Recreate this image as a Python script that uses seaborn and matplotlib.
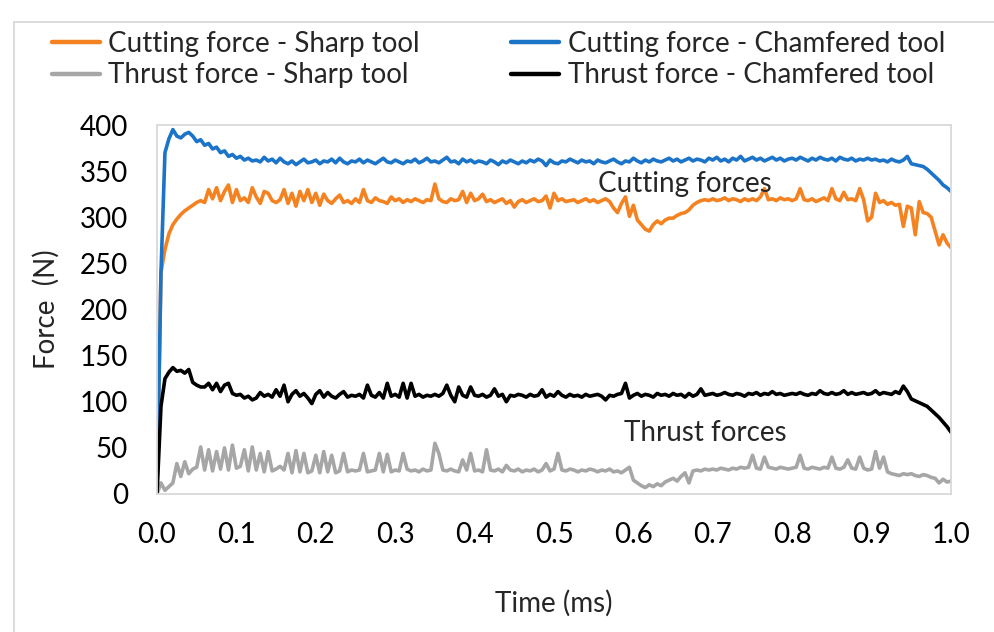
import numpy as np
import pandas as pd
import seaborn as sns
import matplotlib
matplotlib.use("Agg")
import matplotlib.pyplot as plt
from matplotlib.lines import Line2D

# Sampling times (ms), one sample every 0.005 ms
time_ms = np.round(np.arange(201) * 0.005, 3)

cutting_sharp = [
    0, 240, 265, 282, 292, 298, 303, 307, 310, 313,
    316, 318, 316, 330, 320, 332, 318, 328, 335, 316,
    330, 318, 321, 316, 332, 322, 315, 328, 326, 318,
    316, 319, 330, 315, 326, 312, 328, 318, 330, 316,
    326, 313, 325, 318, 315, 320, 324, 316, 318, 315,
    320, 316, 330, 318, 316, 321, 318, 317, 315, 322,
    318, 320, 316, 319, 317, 320, 318, 316, 319, 318,
    336, 320, 317, 316, 320, 318, 319, 328, 316, 326,
    318, 320, 325, 317, 319, 316, 318, 320, 315, 318,
    311, 317, 319, 316, 318, 320, 317, 318, 323, 310,
    326, 318, 320, 317, 318, 319, 316, 318, 320, 317,
    319, 316, 318, 320, 317, 310, 305, 315, 322, 301,
    313, 297, 292, 287, 285, 292, 296, 293, 297, 299,
    299, 302, 304, 305, 308, 313, 316, 318, 319, 318,
    320, 318, 319, 321, 318, 320, 319, 317, 320, 318,
    320, 318, 322, 331, 319, 320, 318, 321, 319, 320,
    318, 320, 331, 319, 318, 320, 317, 319, 321, 318,
    331, 320, 318, 327, 319, 320, 318, 331, 319, 296,
    300, 326, 316, 318, 314, 316, 313, 314, 290, 312,
    310, 281, 317, 305, 304, 300, 285, 270, 281, 272,
    267,
]

cutting_chamfered = [
    0, 240, 370, 385, 395, 388, 386, 390, 392, 388,
    382, 384, 378, 380, 374, 376, 370, 372, 366, 368,
    364, 366, 362, 364, 361, 362, 360, 365, 361, 363,
    359, 364, 360, 358, 361, 357, 360, 363, 359, 360,
    362, 358, 361, 360, 363, 359, 364, 360, 358, 361,
    360, 363, 359, 362, 360, 358, 361, 364, 360, 359,
    362, 360, 358, 361, 360, 363, 359, 361, 364, 360,
    361, 359, 362, 365, 360, 361, 358, 363, 360, 362,
    359, 361, 360, 358, 362, 360, 357, 361, 359, 362,
    360, 358, 361, 359, 362, 360, 363, 361, 356, 362,
    359, 358, 361, 360, 363, 361, 359, 362, 360, 361,
    358, 362, 360, 359, 361, 363, 360, 358, 361, 360,
    364, 361, 359, 362, 360, 363, 361, 360, 362, 364,
    361, 363, 360, 362, 364, 361, 363, 362, 360, 364,
    362, 365, 361, 363, 360, 364, 362, 366, 361, 363,
    365, 362, 364, 361, 363, 365, 362, 364, 361, 363,
    364, 362, 365, 363, 361, 364, 362, 365, 363, 362,
    364, 361, 365, 363, 362, 364, 361, 363, 362, 364,
    362, 363, 361, 362, 360, 363, 361, 360, 362, 366,
    358, 357, 356, 355, 352, 348, 344, 340, 335, 332,
    328,
]

thrust_sharp = [
    0, 12, 4, 8, 12, 33, 19, 35, 22, 27,
    29, 51, 26, 48, 25, 46, 27, 50, 26, 53,
    28, 30, 48, 25, 51, 26, 44, 24, 46, 25,
    27, 30, 26, 44, 23, 47, 24, 44, 23, 25,
    42, 23, 46, 24, 42, 23, 25, 44, 24, 26,
    25, 26, 44, 24, 25, 26, 44, 24, 43, 24,
    26, 25, 44, 27, 25, 26, 24, 27, 25, 26,
    55, 44, 26, 25, 27, 25, 24, 37, 26, 44,
    25, 26, 24, 48, 26, 25, 27, 24, 31, 26,
    25, 27, 24, 26, 25, 27, 24, 26, 33, 25,
    27, 44, 26, 25, 27, 26, 24, 26, 25, 27,
    26, 24, 26, 25, 27, 24, 25, 23, 26, 29,
    15, 12, 9, 7, 10, 8, 11, 9, 13, 15,
    17, 14, 19, 23, 12, 25, 26, 25, 27, 26,
    27, 26, 28, 27, 26, 28, 27, 29, 28, 29,
    42, 28, 27, 40, 29, 28, 27, 29, 28, 27,
    28, 29, 42, 28, 27, 29, 28, 27, 29, 28,
    40, 28, 27, 29, 37, 28, 27, 40, 28, 26,
    27, 46, 28, 40, 24, 22, 21, 20, 22, 21,
    22, 20, 19, 21, 20, 18, 17, 12, 16, 13,
    14,
]

thrust_chamfered = [
    0, 95, 125, 132, 137, 133, 134, 131, 135, 121,
    118, 116, 116, 120, 113, 120, 111, 118, 120, 109,
    107, 108, 104, 106, 102, 104, 110, 106, 108, 105,
    113, 106, 118, 100, 108, 112, 106, 109, 104, 98,
    108, 112, 105, 110, 106, 104, 108, 111, 105, 107,
    106, 108, 104, 118, 107, 105, 110, 104, 120, 106,
    108, 105, 120, 104, 120, 106, 108, 105, 107, 106,
    108, 106, 109, 118, 107, 100, 116, 107, 105, 116,
    107, 106, 108, 105, 107, 114, 106, 108, 100, 107,
    106, 108, 107, 105, 108, 106, 107, 113, 105, 108,
    106, 111, 107, 105, 108, 106, 107, 105, 108, 106,
    107, 108, 106, 102, 107, 106, 108, 109, 120, 104,
    107, 109, 106, 108, 107, 105, 109, 107, 108, 106,
    109, 107, 108, 105, 109, 106, 108, 114, 107, 108,
    109, 107, 108, 110, 108, 107, 109, 108, 106, 109,
    108, 110, 107, 109, 108, 111, 108, 109, 107, 108,
    109, 108, 110, 108, 107, 109, 108, 112, 109, 108,
    110, 108, 109, 112, 108, 110, 108, 109, 110, 108,
    109, 112, 108, 110, 109, 108, 111, 109, 117, 111,
    103, 101, 99, 97, 95, 91, 87, 83, 78, 73,
    67,
]

series_names = [
    "Cutting force - Sharp tool",
    "Cutting force - Chamfered tool",
    "Thrust force - Sharp tool",
    "Thrust force - Chamfered tool",
]
series_values = [cutting_sharp, cutting_chamfered, thrust_sharp, thrust_chamfered]
series_colors = ["#F58220", "#1C74C9", "#A6A6A6", "#000000"]

x_ticks = [0.0, 0.1, 0.2, 0.3, 0.4, 0.5, 0.6, 0.7, 0.8, 0.9, 1.0]
y_ticks = [0, 50, 100, 150, 200, 250, 300, 350, 400]

frames = []
for name, vals in zip(series_names, series_values):
    frames.append(pd.DataFrame({"Time": time_ms, "Force": vals, "Series": name}))
df = pd.concat(frames, ignore_index=True)

sns.set_theme(style="white")
plt.rcParams["font.family"] = ["Lato", "DejaVu Sans"]

FS = 20

fig = plt.figure(figsize=(9.95, 6.32), dpi=100)
ax = fig.add_axes([157 / 995, 1 - 494 / 632, (951 - 157) / 995, (494 - 125) / 632])

sns.lineplot(data=df, x="Time", y="Force", hue="Series", hue_order=series_names,
             palette=series_colors, linewidth=2.6, ax=ax, legend=False,
             estimator=None, sort=False)

ax.set_xlim(0, 1.0)
ax.set_ylim(0, 400)
ax.set_xticks(x_ticks)
ax.set_xticklabels([f"{v:.1f}" for v in x_ticks])
ax.set_yticks(y_ticks)
ax.tick_params(axis="both", length=0, labelsize=FS, colors="#000000")
ax.tick_params(axis="x", pad=20)
ax.tick_params(axis="y", pad=21)
for side in ["left", "bottom", "top", "right"]:
    ax.spines[side].set_color("#D9D9D9")
    ax.spines[side].set_linewidth(1.3)

ax.set_xlabel("Time (ms)", fontsize=FS, labelpad=30)
ax.set_ylabel("Force  (N)", fontsize=FS, labelpad=14)

ax.text(0.665, 336, "Cutting forces", fontsize=FS, ha="center", va="center")
ax.text(0.69, 66, "Thrust forces", fontsize=FS, ha="center", va="center")

# legend: two rows, two columns (column-major fill order)
order = [0, 2, 1, 3]
handles = [Line2D([], [], color=series_colors[i], linewidth=3.2) for i in order]
labels = [series_names[i] for i in order]
fig.legend(handles, labels, ncol=2, frameon=False, fontsize=FS,
           loc="upper left", bbox_to_anchor=(52 / 995, 1 - 31 / 632),
           borderaxespad=0, borderpad=0, handlelength=1.73, handletextpad=0.29,
           columnspacing=3.3, labelspacing=0.19)

# chart-area border
fig.add_artist(Line2D([14 / 995, 1.0], [1 - 22 / 632, 1 - 22 / 632],
                      transform=fig.transFigure, color="#D9D9D9", linewidth=1.3))
fig.add_artist(Line2D([14 / 995, 14 / 995], [0, 1 - 22 / 632],
                      transform=fig.transFigure, color="#D9D9D9", linewidth=1.3))

fig.savefig("out.png", dpi=100)
